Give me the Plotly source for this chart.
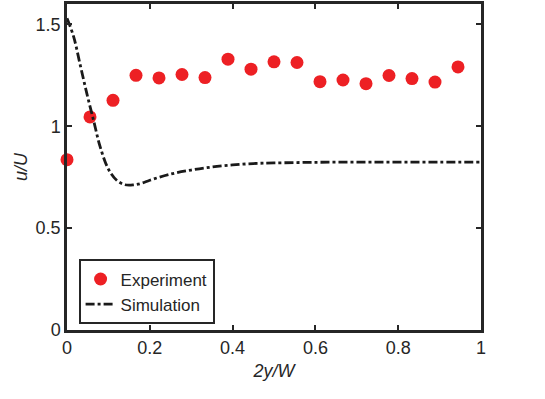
import plotly.graph_objects as go

# experiment points
exp_x = [i / 18 for i in range(18)]
exp_y = [0.836, 1.046, 1.127, 1.250, 1.237, 1.254, 1.239, 1.329, 1.280,
         1.316, 1.313, 1.219, 1.227, 1.209, 1.249, 1.234, 1.217, 1.291]

# simulation curve
sim_x = [0, 0.016, 0.032, 0.048, 0.064, 0.08, 0.1, 0.12, 0.14, 0.16, 0.18, 0.2,
         0.25, 0.3, 0.35, 0.4, 0.45, 0.5, 0.6, 0.7, 0.8, 0.9, 1.0]
sim_y = [1.53, 1.44, 1.30, 1.16, 1.03, 0.90, 0.79, 0.735, 0.713, 0.712, 0.72, 0.735,
         0.765, 0.785, 0.80, 0.81, 0.817, 0.82, 0.823, 0.824, 0.824, 0.824, 0.824]

x_ticks = [0, 0.2, 0.4, 0.6, 0.8, 1]
x_labels = ["0", "0.2", "0.4", "0.6", "0.8", "1"]
y_ticks = [0, 0.5, 1, 1.5]
y_labels = ["0", "0.5", "1", "1.5"]

font = dict(family="Liberation Sans, Arial, sans-serif", size=18, color="#262626")

fig = go.Figure()
fig.add_trace(go.Scatter(
    x=exp_x, y=exp_y, mode="markers", name="Experiment",
    marker=dict(color="#ED2024", size=13),
    cliponaxis=False
))
fig.add_trace(go.Scatter(
    x=sim_x, y=sim_y, mode="lines", name="Simulation",
    line=dict(color="#1a1a1a", width=2.8, dash="9px,3px,3px,3px", shape="spline")
))

axis_common = dict(
    showgrid=False, zeroline=False, showline=True, mirror="ticks",
    linecolor="#262626", linewidth=2.5, ticks="inside", ticklen=5,
    tickwidth=2, tickcolor="#262626", tickfont=font, automargin=False
)
fig.update_xaxes(range=[0, 1], tickvals=x_ticks, ticktext=x_labels,
                 title=dict(text="<i>2y/W</i>", font=font, standoff=8), **axis_common)
fig.update_yaxes(range=[0, 1.6], tickvals=y_ticks, ticktext=y_labels,
                 title=dict(text="<i>u/U</i>", font=font, standoff=4), **axis_common)

fig.update_layout(
    width=545, height=399,
    margin=dict(l=67, r=64, t=4, b=69),
    plot_bgcolor="white", paper_bgcolor="white",
    font=font,
    showlegend=True,
    legend=dict(
        x=0.028, y=0.017, xanchor="left", yanchor="bottom",
        bordercolor="#262626", borderwidth=2, bgcolor="white",
        font=dict(family=font["family"], size=17, color=font["color"]),
        tracegroupgap=0, itemwidth=30
    )
)

fig.write_html("out.html", config={"displayModeBar": False},
               post_script="document.body.style.margin='0';")
